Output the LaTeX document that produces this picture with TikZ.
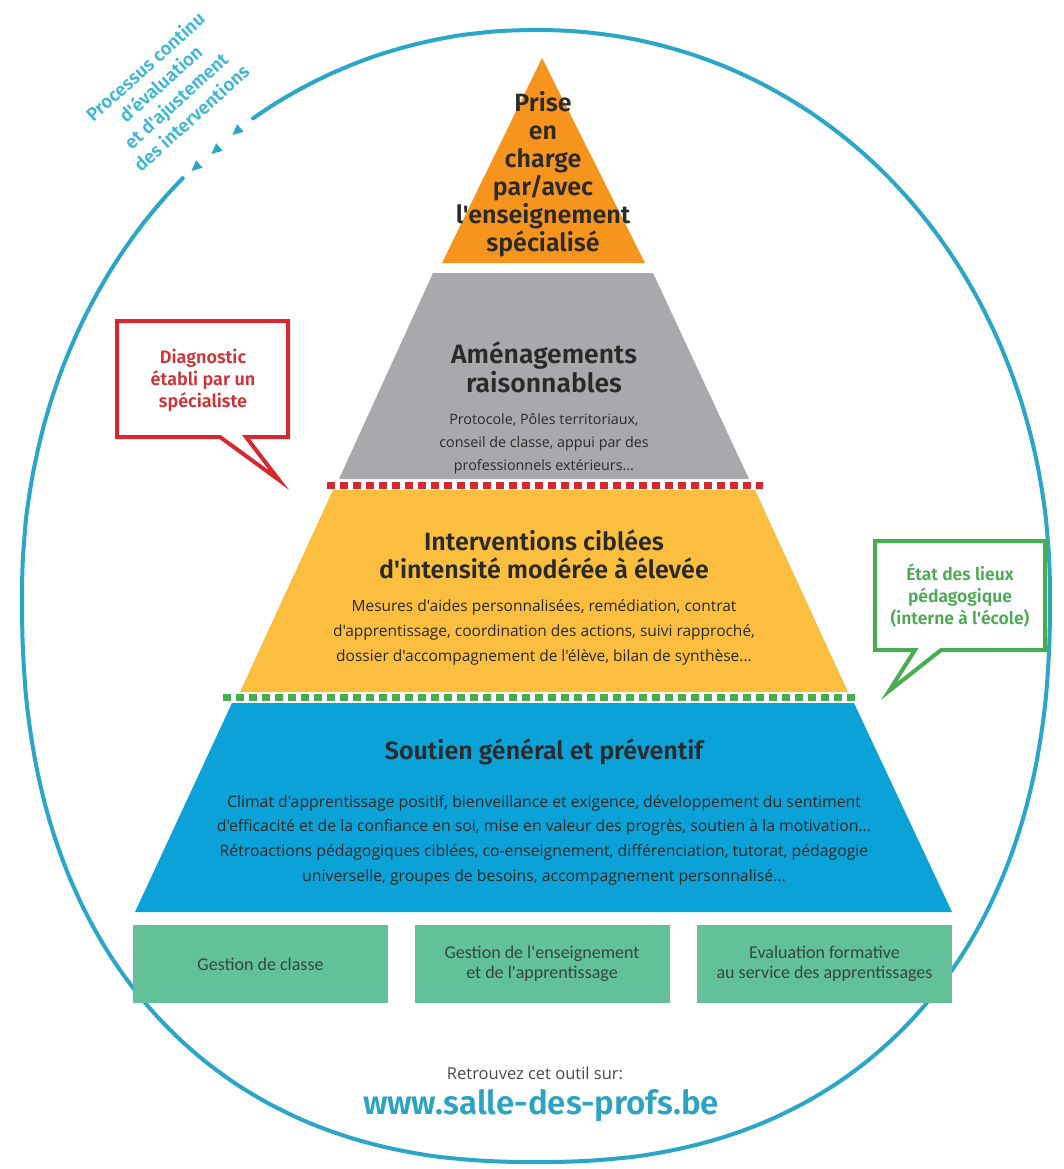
\documentclass[tikz,border=0pt]{standalone}
\usepackage{fontspec}
\setmainfont{Open Sans}
\newfontfamily\hfont{Fira Sans}[BoldFont={Fira Sans SemiBold}]
\newfontfamily\bfont{Open Sans}
\newfontfamily\cfont{Carlito}
\definecolor{orangeC}{HTML}{F7941D}
\definecolor{grayC}{HTML}{A7A9AC}
\definecolor{yellowC}{HTML}{FBBE3E}
\definecolor{blueC}{HTML}{0BA2D7}
\definecolor{gboxC}{HTML}{63C19A}
\definecolor{circC}{HTML}{2AA6C7}
\definecolor{redC}{HTML}{D3292F}
\definecolor{redT}{HTML}{CF3338}
\definecolor{greenC}{HTML}{47AE4F}
\definecolor{greenT}{HTML}{4CA853}
\definecolor{darkT}{HTML}{2A2A2A}
\definecolor{gtextC}{HTML}{33473D}
\definecolor{urlC}{HTML}{2BA3C3}
\definecolor{procC}{HTML}{40B7D5}
\begin{document}
\begin{tikzpicture}[x=1pt,y=-1pt,
  head/.style={font=\hfont\bfseries\fontsize{25}{28}\selectfont,text=darkT,align=center,inner sep=0pt},
  body/.style={font=\bfont\fontsize{14}{24}\selectfont,text=darkT,align=center,inner sep=0pt},
  gbox/.style={fill=gboxC,minimum width=255pt,minimum height=78pt,inner sep=0pt,
     font=\cfont\fontsize{18}{20}\selectfont,text=gtextC,align=center},
  callred/.style={draw=redC,line width=4pt,fill=white,line join=miter},
  callgreen/.style={draw=greenC,line width=4pt,fill=white,line join=miter},
  ctext/.style={font=\hfont\bfseries\fontsize{18}{22}\selectfont,align=center,inner sep=0pt},
  sepline/.style={line width=7pt,dash pattern=on 8pt off 5pt},
  circline/.style={draw=circC,line width=4pt,line cap=round}
]
\useasboundingbox (0,0) rectangle (1063,1169);
\fill[white] (0,0) rectangle (1063,1169);

% ---- surrounding loop (open at top-left) ----
\draw[circline,smooth]
  plot[domain=132.9:180,samples=40]
    ({536+514*sign(cos(\x))*pow(abs(cos(\x))+0.00001,0.9756)},{596-566*pow(abs(sin(\x))+0.00001,0.9756)})
  -- plot[domain=180:360,samples=120]
    ({536+514*sign(cos(\x))*pow(abs(cos(\x))+0.00001,0.8696)},{596+566*pow(abs(sin(\x))+0.00001,0.8696)})
  -- plot[domain=0:122.85,samples=90]
    ({536+514*sign(cos(\x))*pow(abs(cos(\x))+0.00001,0.9756)},{596-566*pow(abs(sin(\x))+0.00001,0.9756)});

% arrow marks in the gap
\foreach \p in {(237,131),(216,150),(196,167)}{
  \fill[circC,shift={\p},rotate=221] (6,0) -- (-4.5,5) -- (-4.5,-5) -- cycle;
}

\node[font=\hfont\bfseries\fontsize{18.5}{23}\selectfont,text=procC,align=center,rotate=42,inner sep=0pt]
  (proc) at (168,92) {Processus continu\\d'évaluation\\et d'ajustement\\des interventions};

% ---- pyramid ----
\fill[orangeC] (542,58) -- (645,263) -- (442,263) -- cycle;
\fill[grayC] (433,273) -- (653,273) -- (749,479) -- (339,479) -- cycle;
\fill[yellowC] (333,490) -- (755,490) -- (848,692) -- (240,692) -- cycle;
\fill[blueC] (232,703) -- (854,703) -- (952,912) -- (135,912) -- cycle;

\draw[sepline,draw=redC] (327,485) -- (763,485);
\draw[sepline,draw=greenC] (223,697) -- (860,697);

\node[head] (t1) at (543,174) {Prise\\en\\charge\\par/avec\\l'enseignement\\spécialisé};

\node[head,font=\hfont\bfseries\fontsize{26.5}{29}\selectfont] (t2) at (544,367) {Aménagements\\raisonnables};
\node[body,font=\bfont\fontsize{14.3}{23}\selectfont] (b2) at (544,444) {Protocole, Pôles territoriaux,\\conseil de classe, appui par des\\professionnels extérieurs...};

\node[head] (t3) at (544,554) {Interventions ciblées\\d'intensité modérée à élevée};
\node[body,font=\bfont\fontsize{15.5}{25}\selectfont] (b3) at (544,632) {Mesures d'aides personnalisées, remédiation, contrat\\d'apprentissage, coordination des actions, suivi rapproché,\\dossier d'accompagnement de l'élève, bilan de synthèse...};

\node[head] (t4) at (544,752) {Soutien général et préventif};
\node[body,font=\bfont\fontsize{15.8}{24.7}\selectfont] (b4) at (544,840) {Climat d'apprentissage positif, bienveillance et exigence, développement du sentiment\\d'efficacité et de la confiance en soi, mise en valeur des progrès, soutien à la motivation...\\Rétroactions pédagogiques ciblées, co-enseignement, différenciation, tutorat, pédagogie\\universelle, groupes de besoins, accompagnement personnalisé...};

% ---- foundation boxes ----
\node[gbox] (g1) at (260.5,964) {Gestion de classe};
\node[gbox] (g2) at (542,964) {Gestion de l'enseignement\\et de l'apprentissage};
\node[gbox] (g3) at (824.5,964) {Evaluation formative\\au service des apprentissages};

% ---- callouts ----
\draw[callred] (117,321) -- (288,321) -- (288,437) -- (246,437) -- (279,480) -- (220,437) -- (117,437) -- cycle;
\node[ctext,text=redT] (c1) at (203,380) {Diagnostic\\établi par un\\spécialiste};

\draw[callgreen] (875,541) -- (1045,541) -- (1045,650) -- (941,650) -- (889,691) -- (915,650) -- (875,650) -- cycle;
\node[ctext,text=greenT,font=\hfont\bfseries\fontsize{17.5}{22}\selectfont] (c2) at (960,596) {État des lieux\\pédagogique\\(interne à l'école)};

% ---- footer ----
\node[font=\bfont\fontsize{16.5}{20}\selectfont,text=darkT!85,inner sep=0pt] (r1) at (535,1073) {Retrouvez cet outil sur:};
\node[font=\hfont\bfseries\fontsize{33}{36}\selectfont,text=urlC,inner sep=0pt] (r2) at (541,1106) {www.salle-des-profs.be};
\end{tikzpicture}
\end{document}
